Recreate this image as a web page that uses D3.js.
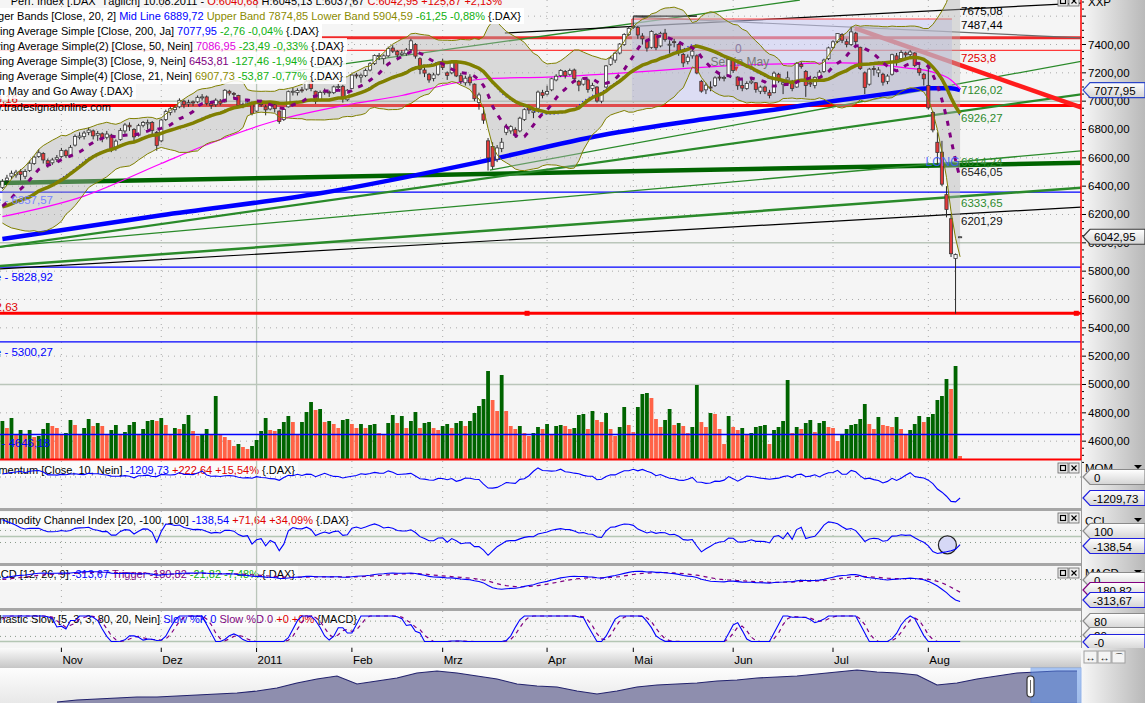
<!DOCTYPE html>
<html><head><meta charset="utf-8">
<script src="https://cdn.jsdelivr.net/npm/d3@7"></script>
<style>
html,body{margin:0;padding:0;background:#f5f5f5;overflow:hidden}
svg{display:block;font-family:"Liberation Sans",Arial,sans-serif}
text{white-space:pre}
</style></head><body>
<svg id="c" width="1145" height="703"></svg>
<script>
// ---------------- DATA (daily DAX, 13.10.2010 - 10.08.2011) ----------------
const priorCloses=[6253,6237,6221,6209,6295,6292,6208,6184,6299,6291,6257,6245,6229,6211,6154,6260,6233,6247,6263,6302];
const opens=[6390,6440,6470,6480,6505,6470,6510,6560,6610,6630,6580,6565,6590,
6610,6650,6620,6690,6745,6750,6780,6790,6760,6770,6745,6760,6670,6730,6790,6830,6800,6760,6830,6840,6850,6780,
6720,6870,6920,6940,6960,7000,6980,6995,6995,7025,7030,6985,6975,7000,6995,7070,7055,7040,6975,6975,6990,
6930,6990,6960,6945,6975,6930,6870,6960,7065,7060,7080,7085,7140,7070,7010,7065,7065,7060,7100,7105,7010,
7090,7185,7170,7180,7220,7265,7320,7300,7320,7375,7350,7330,7335,7365,7400,7300,7220,7190,7160,7190,
7275,7200,7200,7275,7180,7130,7170,7120,6990,6910,6720,6680,6590,6665,6780,6790,6800,6790,6870,6960,6920,6950,7060,
7050,7080,7150,7180,7210,7190,7220,7140,7120,7150,7090,7100,7000,7100,7260,7290,7340,7400,7470,
7520,7520,7460,7430,7380,7470,7390,7480,7400,7420,7400,7330,7280,7320,7320,7140,7080,7100,7110,7170,7160,7180,
7290,7170,7110,7090,7130,7130,7070,7100,7060,7060,7190,7120,7150,7140,7100,7260,7210,7130,7110,7170,7210,7300,
7380,7420,7470,7420,7400,7480,7380,7200,7120,7230,7200,7190,7140,7190,7320,7300,7340,7330,7340,7230,7190,
7110,6920,6710,6640,6340,6170,5890,6040.68];
const highs=[6450,6480,6510,6515,6520,6520,6580,6615,6660,6640,6595,6600,6620,
6670,6660,6690,6765,6780,6790,6815,6800,6790,6780,6790,6770,6730,6810,6845,6850,6810,6840,6860,6870,6860,6790,
6875,6940,6960,6970,7020,7010,7010,7005,7040,7050,7040,7000,7020,7015,7085,7080,7065,7045,6990,7010,6995,
7000,7010,6975,6990,6990,6935,6950,7075,7095,7090,7100,7150,7160,7075,7075,7090,7075,7110,7125,7115,7085,
7190,7200,7195,7230,7275,7330,7340,7330,7385,7395,7360,7360,7375,7440,7410,7310,7240,7200,7200,7280,
7300,7210,7280,7290,7200,7180,7190,7125,7060,6960,6740,6710,6690,6740,6840,6830,6815,6890,6950,6975,6950,7075,7080,
7110,7165,7190,7225,7220,7230,7230,7150,7170,7160,7130,7105,7065,7255,7320,7350,7410,7480,7530,
7600,7530,7480,7440,7500,7480,7490,7510,7430,7440,7410,7340,7330,7370,7330,7150,7130,7140,7175,7190,7180,7300,
7300,7175,7150,7140,7170,7135,7110,7110,7080,7210,7200,7150,7210,7150,7275,7280,7220,7180,7175,7220,7300,7385,
7430,7480,7480,7440,7525,7490,7385,7210,7235,7250,7240,7200,7190,7335,7340,7360,7350,7360,7345,7260,7200,
7250,6930,6780,6720,6400,6200,5925,6045.13];
const lows=[6380,6420,6450,6460,6440,6450,6500,6550,6600,6560,6530,6550,6570,
6600,6600,6610,6680,6730,6730,6760,6730,6720,6710,6730,6640,6650,6720,6770,6790,6710,6750,6815,6800,6760,6650,
6710,6860,6900,6920,6950,6950,6960,6965,6985,7005,6970,6945,6960,6970,6990,7040,7030,6960,6950,6965,6900,
6925,6960,6900,6935,6920,6840,6860,6955,7040,7040,7060,7075,7070,6980,7000,7045,7030,7050,7085,6990,7000,
7085,7160,7130,7170,7210,7255,7290,7260,7310,7340,7300,7320,7320,7355,7300,7190,7170,7130,7140,7180,
7220,7150,7190,7170,7120,7110,7110,7000,6940,6840,6510,6520,6570,6640,6760,6770,6740,6780,6860,6910,6880,6945,7020,
7040,7070,7140,7170,7160,7180,7150,7070,7110,7060,7070,6990,6985,7095,7250,7270,7330,7390,7460,
7510,7440,7400,7350,7370,7360,7380,7420,7340,7380,7320,7240,7260,7300,7190,7060,7050,7070,7100,7145,7140,7175,
7200,7080,7070,7080,7120,7060,7050,7050,7020,7055,7130,7050,7140,7070,7095,7230,7030,7100,7090,7160,7200,7290,
7370,7410,7410,7380,7390,7380,7220,7050,7110,7180,7170,7110,7120,7180,7250,7290,7300,7310,7240,7180,7110,
6940,6780,6550,6400,6180,5900,5500,6037.67];
const closes=[6434,6457,6491,6499,6482,6503,6562,6605,6636,6585,6559,6585,6601,
6652,6615,6674,6750,6754,6775,6796,6755,6772,6742,6768,6664,6718,6793,6832,6819,6748,6827,6849,6849,6794,6688,
6867,6926,6947,6955,7006,6976,6990,6987,7027,7030,6984,6970,7007,6985,7077,7057,7048,6970,6972,6995,6914,
6990,6975,6939,6981,6947,6857,6942,7067,7070,7075,7078,7141,7090,6999,7062,7067,7059,7101,7103,7017,7077,
7184,7180,7183,7216,7264,7323,7322,7320,7371,7353,7326,7339,7361,7426,7318,7225,7198,7150,7185,7272,
7237,7181,7270,7178,7139,7162,7130,7017,7044,6866,6600,6540,6670,6710,6820,6820,6765,6880,6940,6938,6930,7064,7041,
7068,7158,7176,7217,7179,7217,7159,7113,7157,7083,7111,7001,7050,7249,7304,7339,7403,7471,7514,
7527,7467,7440,7375,7492,7377,7479,7436,7402,7414,7347,7270,7311,7353,7199,7071,7113,7094,7164,7163,7167,7293,
7217,7109,7092,7124,7141,7083,7099,7069,7041,7198,7150,7130,7164,7090,7268,7245,7111,7121,7168,7205,7290,7376,
7419,7477,7430,7401,7489,7420,7231,7097,7226,7224,7220,7134,7177,7328,7290,7344,7327,7347,7252,7201,7158,
6953,6797,6637,6414,6236,5923,5917,6042.95];
const volumes=[38,31,41,25,29,25,29,22,23,30,36,33,31,
24,26,39,34,24,31,40,33,36,33,24,29,34,24,27,34,37,25,30,38,39,38,
41,34,25,31,30,35,44,28,23,24,30,24,63,24,22,19,13,15,12,10,13,
19,28,41,29,28,30,37,43,37,24,37,47,57,49,50,37,38,35,31,39,40,
35,31,35,31,34,35,26,25,36,44,36,43,31,38,47,31,36,37,31,29,
33,35,31,36,38,33,38,46,53,60,88,59,48,84,48,33,30,33,26,23,26,32,30,
35,24,33,34,33,30,31,44,45,30,48,39,37,46,30,23,32,52,34,
27,52,65,66,61,40,32,39,50,34,36,33,26,32,74,37,32,46,45,30,15,43,
32,29,31,25,26,32,33,34,15,29,32,38,79,26,32,30,36,39,27,36,38,32,
31,18,25,30,34,35,40,55,35,30,42,34,33,32,42,30,24,29,35,43,37,
42,45,59,63,80,70,93,3];
const sma50Pts=[[0,6185],[18,6330],[35,6560],[44,6680],[60,6860],[77,6980],[88,7040],[100,7130],[107,7160],[120,7170],[137,7200],[150,7230],[162,7255],[175,7265],[185,7270],[199,7235],[205,7205],[209,7150],[211,7087]];
const sma200Pts=[[0,6027],[35,6195],[70,6350],[105,6570],[132,6760],[154,6870],[170,6940],[184,7005],[198,7065],[204,7092],[209,7092],[211,7078]];
const monthLabels=["Nov","Dez","2011","Feb","Mrz","Apr","Mai","Jun","Jul","Aug"];
const monthIdx=[13,35,56,77,97,120,139,161,183,204];
const priceTicks=[4600,4800,5000,5200,5400,5600,5800,6000,6200,6400,6600,6800,7000,7200,7400];
const navValues=[3620,3860,3980,4100,4220,4220,4340,4460,4580,4700,4940,5300,5900,6380,6740,5780,6140,6500,7100,7340,7100,6740,6380,5780,5540,5420,4940,4580,4940,5420,5660,5780,5900,6140,6260,6500,6620,6740,6980,7220,7460,7220,7100,6860,5660,5900,6380,6740,7100,7220,7340,7340];
// horizontal levels: [value, color, width]
const hLevels=[[7448,"#f02828",3],[7358,"#ff3a3a",1.2],[6969.5,"#ff0000",3],[5502.63,"#ff0000",3],
  [6357.57,"#0000ff",1.2],[5828.92,"#0000ff",1.2],[5300.27,"#0000ff",1.2],[4646.18,"#0000ff",1.5]];
// trend lines: [i1,v1,i2,v2,color,width]
const trendLines=[[-1,6422,238,6565,"#006400",4.5],[-1,5836,238,6390,"#2a8a2a",2.5],[-1,5970,238,6650,"#2a8a2a",1.3],
  [-1,5970,238,7050,"#2a8a2a",2.2],[107.4,6514,238,7283,"#2a8a2a",1.3],[61.2,7199,175.7,7714,"#2a8a2a",1.3],
  [-1,5815,238,6253,"#000000",1.2],[110.7,7481,238,7693,"#000000",1.2],[139,7600,153,7600,"#000000",1.2],[139,7594,238,7446,"#6a6a6a",1.2]];
const redFall=[187.8,7516,238,6952];
const zoneRect=[138.7,7580,209.2,7001];
const rightLabels=[["7675,08",7636,"#000"],["7487,44",7538,"#000"],["7253,8",7305,"#e00000"],["7126,02",7079,"#2e8b2e"],["6926,27",6881,"#2e8b2e"],["6614,24",6571,"#2e8b2e"],["6546,05",6500,"#222"],["6333,65",6281,"#2e8b2e"],["6201,29",6154,"#111"]];
const leftLabels=[["6970,16",7015,"#e00000",18],["Linie - 6357,57",6302,"#7a86ff",53],["Linie - 5828,92",5759,"#0000ff",53],["5502,63",5547,"#e00000",18],["Linie - 5300,27",5229,"#0000ff",53],["Linie - 4646,18",4587,"#0000ff",50]];

// ---------------- SETUP ----------------
const W=1145,H=703,R=1081;
const svg=d3.select("#c");
const defs=svg.append("defs");
function grad(id,x2,y2,stops){const g=defs.append("linearGradient").attr("id",id).attr("x1",0).attr("y1",0).attr("x2",x2).attr("y2",y2);stops.forEach(s=>g.append("stop").attr("offset",s[0]).attr("stop-color",s[1]));}
grad("gRight",1,0,[[0,"#f7f7f7"],[1,"#b9b9b9"]]);
grad("gAxis",0,1,[[0,"#fbfbfb"],[1,"#c6c6c6"]]);
grad("gTag",0,1,[[0,"#ffffff"],[1,"#d4d4d4"]]);
grad("gNav",0,1,[[0,"#fdfdfd"],[1,"#e8e8e8"]]);
function clip(id,y0,y1){defs.append("clipPath").attr("id",id).append("rect").attr("x",0).attr("y",y0).attr("width",R).attr("height",y1-y0);}
clip("cMain",0,459);clip("cMom",461,508);clip("cCci",511,563);clip("cMacd",566,608);clip("cSto",611,648);

svg.append("rect").attr("width",W).attr("height",H).attr("fill","#f5f5f5");
svg.append("rect").attr("x",R).attr("y",0).attr("width",W-R).attr("height",648).attr("fill","url(#gRight)");

const x=d3.scaleLinear().domain([0,211]).range([2.4,960.1]);
const yP=d3.scaleLinear().domain([7400,5400]).range([44.5,327.83]);
const yV=d3.scaleLinear().domain([0,125]).range([459,334]);
const idx=d3.range(closes.length);

// ---------------- INDICATORS ----------------
const P=priorCloses.length;
const allC=priorCloses.concat(closes);
const allTP=priorCloses.concat(idx.map(i=>(highs[i]+lows[i]+closes[i])/3));
const sma=(arr,j,n)=>d3.mean(arr.slice(j-n+1,j+1));
const sma9=idx.map(i=>sma(allC,i+P,9));
const sma21=idx.map(i=>sma(allC,i+P,21));
const bb=idx.map(i=>{const w=allC.slice(i+P-19,i+P+1);const m=d3.mean(w);const sd=Math.sqrt(d3.mean(w,v=>(v-m)*(v-m)));return {m:m,u:m+2*sd,l:m-2*sd};});
const mom=idx.map(i=>allC[i+P]-allC[i+P-10]);
const cci=idx.map(i=>{const w=allTP.slice(i+P-19,i+P+1);const m=d3.mean(w);const md=d3.mean(w,v=>Math.abs(v-m));return (allTP[i+P]-m)/(0.015*md);});
function ema(arr,n){const k=2/(n+1);const out=[arr[0]];for(let j=1;j<arr.length;j++)out.push(arr[j]*k+out[j-1]*(1-k));return out;}
const e12=ema(allC,12),e26=ema(allC,26);
const macdAll=allC.map((_,j)=>e12[j]-e26[j]);
const sigAll=ema(macdAll,9);
const rawK=macdAll.map((v,j)=>{if(j<4)return 50;const w=macdAll.slice(j-4,j+1);const lo=d3.min(w),hi=d3.max(w);return hi===lo?50:100*(v-lo)/(hi-lo);});
const kAll=rawK.map((_,j)=>j<2?rawK[j]:d3.mean(rawK.slice(j-2,j+1)));
const dAll=kAll.map((_,j)=>j<2?kAll[j]:d3.mean(kAll.slice(j-2,j+1)));
const macd=idx.map(i=>macdAll[i+P]), sig=idx.map(i=>sigAll[i+P]), stK=idx.map(i=>kAll[i+P]), stD=idx.map(i=>dAll[i+P]);

// ---------------- MAIN PANEL ----------------
const gM=svg.append("g").attr("clip-path","url(#cMain)");
d3.range(4400,7801,200).forEach(v=>{const s=v%1000===0;gM.append("line").attr("x1",0).attr("x2",R).attr("y1",yP(v)).attr("y2",yP(v)).attr("stroke",s?"#bac6ba":"#a9a9a9").attr("stroke-width",s?1.5:1).attr("stroke-dasharray",s?null:"1,5");});
function vgrid(g,y0,y1){monthIdx.forEach((m,k)=>{const s=monthLabels[k]==="2011";g.append("line").attr("x1",x(m)).attr("x2",x(m)).attr("y1",y0).attr("y2",y1).attr("stroke",s?"#bac6ba":"#a9a9a9").attr("stroke-width",s?1.3:1).attr("stroke-dasharray",s?null:"1,5");});}
vgrid(gM,0,459);

// volume
gM.selectAll("rect.v").data(idx).join("rect").attr("x",i=>x(i)-1.9).attr("width",3.8)
 .attr("y",i=>yV(volumes[i])).attr("height",i=>459-yV(volumes[i]))
 .attr("fill",i=>(i===0||volumes[i]>=volumes[i-1])?"#006400":"#ff6347");

// horizontal levels & trend lines
hLevels.forEach(h=>gM.append("line").attr("x1",0).attr("x2",R).attr("y1",yP(h[0])).attr("y2",yP(h[0])).attr("stroke",h[1]).attr("stroke-width",h[2]));
trendLines.forEach(t=>gM.append("line").attr("x1",x(t[0])).attr("y1",yP(t[1])).attr("x2",x(t[2])).attr("y2",yP(t[3])).attr("stroke",t[4]).attr("stroke-width",t[5]));
gM.append("line").attr("x1",x(redFall[0])).attr("y1",yP(redFall[1])).attr("x2",x(redFall[2])).attr("y2",yP(redFall[3])).attr("stroke","#ff1c1c").attr("stroke-width",4.5);
[115.6,236.6].forEach(i=>gM.append("rect").attr("x",x(i)-2.5).attr("y",yP(5502.63)-2.5).attr("width",5).attr("height",5).attr("fill","#ff0000"));

// zone rectangle
gM.append("rect").attr("x",x(zoneRect[0])).attr("y",yP(zoneRect[1])).attr("width",x(zoneRect[2])-x(zoneRect[0])).attr("height",yP(zoneRect[3])-yP(zoneRect[1])).attr("fill","#c6c8f2").attr("opacity",0.55);
gM.append("line").attr("x1",x(zoneRect[0])).attr("x2",x(zoneRect[2])).attr("y1",yP(zoneRect[1])).attr("y2",yP(zoneRect[1])).attr("stroke","#ff4040").attr("stroke-width",1.2);
gM.append("line").attr("x1",x(zoneRect[0])).attr("x2",x(zoneRect[0])).attr("y1",yP(zoneRect[1])).attr("y2",yP(zoneRect[1])+7).attr("stroke","#ff4040").attr("stroke-width",1.2);

// Bollinger fill
gM.append("path").datum(idx).attr("d",d3.area().x(i=>x(i)).y0(i=>yP(bb[i].l)).y1(i=>yP(bb[i].u))).attr("fill","#b2b2b2").attr("opacity",0.42);

// SMA200, SMA50
gM.append("path").datum(sma200Pts).attr("d",d3.line().x(d=>x(d[0])).y(d=>yP(d[1])).curve(d3.curveMonotoneX)).attr("fill","none").attr("stroke","#0000ff").attr("stroke-width",4.5);
gM.append("path").datum(sma50Pts).attr("d",d3.line().x(d=>x(d[0])).y(d=>yP(d[1])).curve(d3.curveMonotoneX)).attr("fill","none").attr("stroke","#ff00ff").attr("stroke-width",1.2);

// Sell in May annotation
gM.append("text").attr("x",x(156)).attr("y",yP(7276)+4).attr("font-size",12).attr("fill","#777").text("Sell in May");
gM.append("text").attr("x",x(161.4)).attr("y",yP(7368)+4).attr("font-size",12).attr("fill","#8a7aa0").text("0");
gM.append("path").attr("d",`M${x(161.1)},${yP(7245)} l5,0 l-2.5,5 z`).attr("fill","#e03030");

// candles
gM.selectAll("line.w").data(idx).join("line").attr("x1",i=>x(i)).attr("x2",i=>x(i)).attr("y1",i=>yP(highs[i])).attr("y2",i=>yP(lows[i])).attr("stroke","#2a2a2a").attr("stroke-width",1);
gM.selectAll("rect.b").data(idx).join("rect").attr("x",i=>x(i)-1.6).attr("width",3.2)
 .attr("y",i=>yP(Math.max(opens[i],closes[i]))).attr("height",i=>Math.max(1,Math.abs(yP(opens[i])-yP(closes[i]))))
 .attr("fill",i=>closes[i]>=opens[i]?"#ffffff":"#e23a3a").attr("stroke","#3a3a3a").attr("stroke-width",0.8);

// bands, SMA21, BB mid, SMA9
const ln=(f)=>d3.line().x(i=>x(i)).y(i=>yP(f(i)));
gM.append("path").datum(idx).attr("d",ln(i=>bb[i].u)).attr("fill","none").attr("stroke","#808000").attr("stroke-width",1);
gM.append("path").datum(idx).attr("d",ln(i=>bb[i].l)).attr("fill","none").attr("stroke","#808000").attr("stroke-width",1);
gM.append("path").datum(idx).attr("d",ln(i=>bb[i].m)).attr("fill","none").attr("stroke","#0000ff").attr("stroke-width",1.2).attr("stroke-dasharray","1,3");
gM.append("path").datum(idx).attr("d",ln(i=>sma21[i])).attr("fill","none").attr("stroke","#808000").attr("stroke-width",3.5);
gM.append("path").datum(idx).attr("d",ln(i=>sma9[i])).attr("fill","none").attr("stroke","#800080").attr("stroke-width",3).attr("stroke-dasharray","5,7");

// LONG text
gM.append("text").attr("x",x(203.4)).attr("y",yP(6540)).attr("font-size",12).attr("fill","#3a5cff").attr("opacity",0.85).text("LONG");

// value labels
rightLabels.forEach(l=>gM.append("text").attr("x",961).attr("y",yP(l[1])+4).attr("font-size",11.5).attr("fill",l[2]).text(l[0]));
leftLabels.forEach(l=>gM.append("text").attr("x",l[3]).attr("y",yP(l[1])+4).attr("font-size",11.5).attr("fill",l[2]).attr("text-anchor","end").text(l[0]));

// legend rows
function legendRow(g,y,endX,segs,bgOp){
  const t=g.append("text").attr("y",y).attr("font-size",11);
  segs.forEach(s=>t.append("tspan").attr("fill",s[1]).text(s[0]));
  const w=t.node().getComputedTextLength();
  t.attr("x",endX-w);
  if(bgOp>0){g.insert("rect",()=>t.node()).attr("x",endX-w-2).attr("y",y-12).attr("width",w+5).attr("height",16).attr("fill","#ffffff").attr("opacity",bgOp);}
}
const gL=svg.append("g");
const G="#10b010";
legendRow(gL,5,502,[["Perf. Index [.DAX  Täglich] 10.08.2011 - ","#000"],["O:6040,68","#e00000"],[" H:6045,13 L:6037,67 ","#000"],["C:6042,95 +125,87 +2,13%","#e00000"]],0);
legendRow(gL,20,521,[["Bollinger Bands [Close, 20, 2] ","#000"],["Mid Line 6889,72","#0000ff"],[" Upper Band 7874,85 Lower Band 5904,59","#8b8b00"],[" -61,25 -0,88%",G],[" {.DAX}","#000"]],0.95);
legendRow(gL,35,319,[["Moving Average Simple [Close, 200, Ja] ","#000"],["7077,95","#0000ff"],[" -2,76 -0,04%",G],[" {.DAX}","#000"]],0.95);
legendRow(gL,50,344,[["Moving Average Simple(2) [Close, 50, Nein] ","#000"],["7086,95","#e000e0"],[" -23,49 -0,33%",G],[" {.DAX}","#000"]],0.85);
legendRow(gL,65,343,[["Moving Average Simple(3) [Close, 9, Nein] ","#000"],["6453,81","#800080"],[" -127,46 -1,94%",G],[" {.DAX}","#000"]],0.85);
legendRow(gL,80,343,[["Moving Average Simple(4) [Close, 21, Nein] ","#000"],["6907,73","#8b8b00"],[" -53,87 -0,77%",G],[" {.DAX}","#000"]],0.85);
legendRow(gL,95,133,[["Sell in May and Go Away {.DAX}","#000"]],0.8);
legendRow(gL,111,111,[["www.tradesignalonline.com","#000"]],0);

// panel borders
svg.append("line").attr("x1",0).attr("x2",R).attr("y1",459.5).attr("y2",459.5).attr("stroke","#ff0000").attr("stroke-width",2);
svg.append("line").attr("x1",R).attr("x2",R).attr("y1",0).attr("y2",460).attr("stroke","#ff0000").attr("stroke-width",1.5);

// price axis
d3.range(4450,7701,50).forEach(v=>{const maj=v%200===0;svg.append("line").attr("x1",R+1).attr("x2",R+(maj?5:3)).attr("y1",yP(v)).attr("y2",yP(v)).attr("stroke","#000");});
priceTicks.forEach(v=>svg.append("text").attr("x",1088).attr("y",yP(v)+4).attr("font-size",11.5).attr("fill","#000").text(d3.format(".2f")(v).replace(".",",")));
svg.append("text").attr("x",1088).attr("y",6).attr("font-size",11.5).text("XXP");

function tag(y,txt,stroke,tx){
  svg.append("path").attr("d",`M${R+2},${y} L${R+9},${y-7.5} L${W},${y-7.5} L${W},${y+7.5} L${R+9},${y+7.5} Z`).attr("fill","url(#gTag)").attr("stroke",stroke).attr("stroke-width",1.2);
  svg.append("text").attr("x",tx||1094).attr("y",y+4.5).attr("font-size",11.5).attr("fill","#000").text(txt);
}
tag(yP(7077.95),"7077,95","#2a44c8");
tag(yP(6042.95),"6042,95","#3a3a3a");

function winBtns(y){[1058,1069].forEach((bx,k)=>{svg.append("rect").attr("x",bx).attr("y",y).attr("width",10).attr("height",10).attr("fill","#ececec").attr("stroke","#666").attr("stroke-width",0.8);
  if(k===0)svg.append("rect").attr("x",bx+2.5).attr("y",y+2.5).attr("width",5).attr("height",5).attr("fill","none").attr("stroke","#000").attr("stroke-width",1.2);
  else svg.append("path").attr("d",`M${bx+2.5},${y+2.5}l5,5M${bx+7.5},${y+2.5}l-5,5`).attr("stroke","#000").attr("stroke-width",1.1);});}
winBtns(-4);

// ---------------- SUB PANELS ----------------
const panels=[
 {id:"cMom",y0:461,y1:508,sc:d3.scaleLinear().domain([0,-1209.73]).range([477,498]),dots:[0],solid:[]},
 {id:"cCci",y0:511,y1:563,sc:d3.scaleLinear().domain([100,-100]).range([530.5,542.5]),dots:[100,-100],solid:[0]},
 {id:"cMacd",y0:566,y1:608,sc:d3.scaleLinear().domain([0,-313.67]).range([579.5,601.5]),dots:[0],solid:[]},
 {id:"cSto",y0:611,y1:648,sc:d3.scaleLinear().domain([0,100]).range([641.5,616]),dots:[80,20],solid:[0]}
];
panels.forEach(p=>{
  const g=svg.append("g").attr("clip-path",`url(#${p.id})`);
  p.g=g;
  vgrid(g,p.y0,p.y1);
  p.dots.forEach(v=>g.append("line").attr("x1",0).attr("x2",R).attr("y1",p.sc(v)).attr("y2",p.sc(v)).attr("stroke","#8a9a8a").attr("stroke-dasharray","1,4"));
  p.solid.forEach(v=>g.append("line").attr("x1",0).attr("x2",R).attr("y1",p.sc(v)).attr("y2",p.sc(v)).attr("stroke","#b4c6b4").attr("stroke-width",1.5));
});
function pline(p,arr,color,dash,w){p.g.append("path").datum(idx).attr("d",d3.line().x(i=>x(i)).y(i=>p.sc(arr[i]))).attr("fill","none").attr("stroke",color).attr("stroke-width",w||1.1).attr("stroke-dasharray",dash||null);}
pline(panels[0],mom,"#0000ff");
panels[1].g.append("circle").attr("cx",x(208.2)).attr("cy",panels[1].sc(-140)).attr("r",9).attr("fill","#d6d8f6").attr("stroke","#222").attr("stroke-width",1.2);
pline(panels[1],cci,"#0000ff");
pline(panels[2],sig,"#800080","4,4",1.2);
pline(panels[2],macd,"#0000ff");
pline(panels[3],stD,"#800080","4,4",1.2);
pline(panels[3],stK,"#0000ff");

[[508,511],[563,566],[608,611]].forEach(s=>svg.append("rect").attr("x",0).attr("y",s[0]).attr("width",R).attr("height",s[1]-s[0]).attr("fill","#a6a6a6"));
svg.append("line").attr("x1",R+0.5).attr("x2",R+0.5).attr("y1",460).attr("y2",648).attr("stroke","#9a9a9a");

legendRow(gL,474,295,[["Momentum [Close, 10, Nein] ","#000"],["-1209,73","#0000ff"],[" +222,64 +15,54%","#e00000"],[" {.DAX}","#000"]],0.6);
legendRow(gL,524,349,[["Commodity Channel Index [20, -100, 100] ","#000"],["-138,54","#0000ff"],[" +71,64 +34,09%","#e00000"],[" {.DAX}","#000"]],0.6);
legendRow(gL,578,295,[["MACD [12, 26, 9] ","#000"],["-313,67","#0000ff"],[" Trigger ","#800080"],["-180,82","#800080"],[" -21,82 -7,48%",G],[" {.DAX}","#000"]],0.6);
legendRow(gL,623,357,[["Stochastic Slow [5, 3, 3, 80, 20, Nein] ","#000"],["Slow %K 0","#0000ff"],[" Slow %D 0","#800080"],[" +0 +0%","#e00000"],[" {MACD}","#000"]],0.6);
winBtns(463);winBtns(513);winBtns(568);

[["MOM",472],["CCI",525],["MACD",577]].forEach(l=>{svg.append("text").attr("x",1085).attr("y",l[1]).attr("font-size",11.5).text(l[0]);svg.append("path").attr("d",`M1134,${l[1]-7} l8,0 l-4,4 z`).attr("fill","#000");});
tag(477,"0","#8a8a8a");tag(498,"-1209,73","#2020e0",1093);
tag(531,"100","#8a8a8a");tag(546,"-138,54","#2020e0",1093);
tag(580,"0","#8a8a8a");tag(590,"-180,82","#800080",1093);tag(600,"-313,67","#2020e0",1093);
tag(621,"80","#8a8a8a");tag(635,"20","#8a8a8a");tag(642,"-0","#2020e0");

// ---------------- X AXIS ----------------
svg.append("rect").attr("x",0).attr("y",648).attr("width",R).attr("height",20).attr("fill","url(#gAxis)");
svg.append("rect").attr("x",R).attr("y",648).attr("width",W-R).attr("height",55).attr("fill","url(#gRight)");
monthIdx.forEach((m,k)=>{svg.append("line").attr("x1",x(m)).attr("x2",x(m)).attr("y1",648).attr("y2",652).attr("stroke","#000");
  svg.append("text").attr("x",x(m)+1).attr("y",664).attr("font-size",11.5).attr("fill","#000").text(monthLabels[k]);});
[1084,1098,1112].forEach((bx,k)=>{svg.append("rect").attr("x",bx).attr("y",651).attr("width",13).attr("height",12).attr("fill","#f4f4f4").attr("stroke","#a0a0a0");
  svg.append("text").attr("x",bx+6.5).attr("y",661).attr("font-size",10).attr("text-anchor","middle").text(k===2?"⌒":"↔");});

// ---------------- NAVIGATOR ----------------
svg.append("rect").attr("x",0).attr("y",668).attr("width",R).attr("height",35).attr("fill","url(#gNav)");
const xN=d3.scaleLinear().domain([0,navValues.length-1]).range([57,1077]);
const yN=d3.scaleLinear().domain([3500,7700]).range([703,668]);
svg.append("path").datum(navValues).attr("d",d3.area().x((d,k)=>xN(k)).y0(703).y1(d=>yN(d))).attr("fill","#8e8eae");
svg.append("path").datum(navValues).attr("d",d3.line().x((d,k)=>xN(k)).y(d=>yN(d))).attr("fill","none").attr("stroke","#23236e").attr("stroke-width",1.2);
svg.append("rect").attr("x",1031).attr("y",668).attr("width",50).attr("height",35).attr("fill","#5a90ea").attr("opacity",0.5).attr("stroke","#3a7ae6");
svg.append("rect").attr("x",1027).attr("y",676).attr("width",7).attr("height",21).attr("rx",3.5).attr("fill","#ffffff").attr("stroke","#333").attr("stroke-width",1.2);
svg.append("line").attr("x1",1030.5).attr("x2",1030.5).attr("y1",680).attr("y2",693).attr("stroke","#666");
</script></body></html>
